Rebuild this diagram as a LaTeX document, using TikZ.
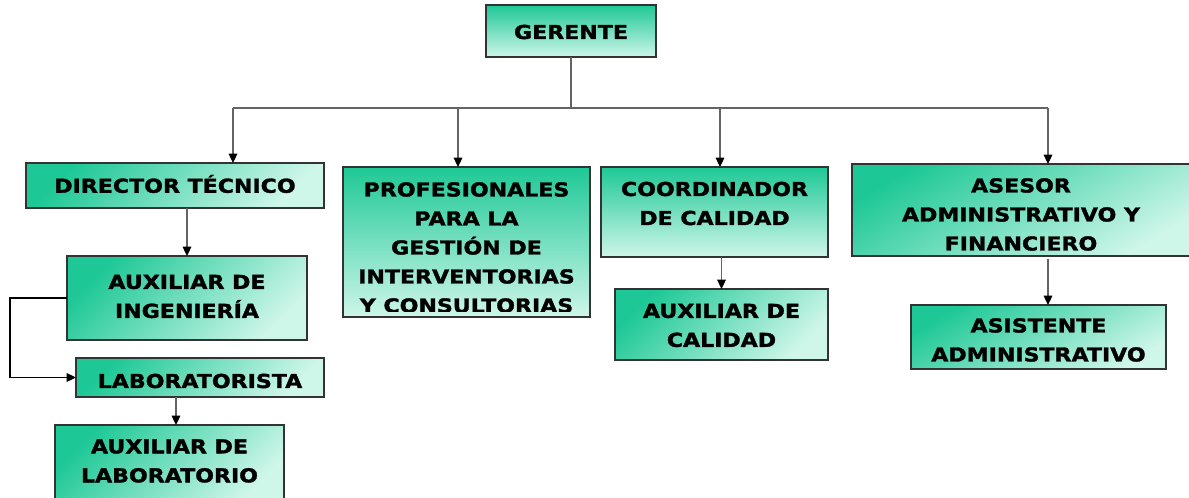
\documentclass[tikz,border=0pt]{standalone}
\usepackage{fontspec}
\newfontfamily\boxfont[FakeStretch=1.15,BoldFeatures={FakeBold=1.6}]{DejaVu Sans}
\usetikzlibrary{arrows.meta}
\definecolor{boxdark}{RGB}{30,200,150}
\definecolor{boxlight}{RGB}{206,246,233}
\definecolor{linegray}{RGB}{100,100,100}

\begin{document}
\begin{tikzpicture}[x=0.75pt,y=-0.75pt,
          box/.style={draw=black!80,line width=0.9pt,rectangle,inner sep=0pt,outer sep=0pt,anchor=north west,
                      top color=boxdark,bottom color=boxlight,shading angle=#1},
          box/.default=45,
          txt/.style={font=\boxfont\bfseries\fontsize{14.4pt}{21.75pt}\selectfont,align=center,inner sep=0pt},
          bus/.style={draw=linegray,line width=0.8pt},
          arrow/.style={bus,-{Triangle[length=7pt,width=6.5pt,color=black,fill=black]}}]

                \useasboundingbox (0,0) rectangle (1189,497);
                \clip (0,0) rectangle (1189,497);

                % boxes
                \node (ger)   [box=0,  minimum width=127.5pt,  minimum height=39pt]    at (486,5)   {};
                \node (dir)   [box,    minimum width=223.5pt,  minimum height=33.75pt] at (26,163)  {};
                \node (prof)  [box=0,  minimum width=185.25pt, minimum height=112.5pt] at (343,167) {};
                \node (coord) [box=0,  minimum width=170.25pt, minimum height=67.5pt]  at (601,167) {};
                \node (auxc)  [box,    minimum width=159.75pt, minimum height=53.25pt] at (615,289) {};
                \node (ases)  [box=30, minimum width=253.5pt,  minimum height=69pt]    at (852,164) {};
                \node (asis)  [box=30, minimum width=191.25pt, minimum height=48pt]    at (911,305) {};
                \node (auxi)  [box,    minimum width=180pt,    minimum height=63pt]    at (67,256)  {};
                \node (lab)   [box,    minimum width=186pt,    minimum height=29.25pt] at (76,358)  {};
                \node (auxl)  [box,    minimum width=171.75pt, minimum height=57pt]    at (55,425)  {};

                % texts
                \node (ger-t)   [txt] at (571,32)     {GERENTE};
                \node (dir-t)   [txt] at (175,184)    {DIRECTOR TÉCNICO};
                \begin{scope}
                  \clip (prof.north west) rectangle ([yshift=4.5pt]prof.south east);
                  \node (prof-t) [txt] at (466.5,247.5) {PROFESIONALES\\PARA LA\\GESTIÓN DE\\INTERVENTORIAS\\Y CONSULTORIAS};
                \end{scope}
                \node (coord-t) [txt] at (714.5,203.5) {COORDINADOR\\DE CALIDAD};
                \node (auxc-t)  [txt] at (721.5,325.5) {AUXILIAR DE\\CALIDAD};
                \node (ases-t)  [txt] at (1021,214.5)  {ASESOR\\ADMINISTRATIVO Y\\FINANCIERO};
                \node (asis-t)  [txt] at (1038.5,340)  {ASISTENTE\\ADMINISTRATIVO};
                \node (auxi-t)  [txt] at (187,296.5)   {AUXILIAR DE\\INGENIERÍA};
                \node (lab-t)   [txt] at (200,381)     {LABORATORISTA};
                \node (auxl-t)  [txt] at (169.5,461)   {AUXILIAR DE\\LABORATORIO};

                % connectors
                \coordinate (b1) at (233,108);
                \coordinate (b2) at (458,108);
                \coordinate (b3) at (720,108);
                \coordinate (b4) at (1048,108);

                \draw[bus] (ger.south) -- (ger.south |- b1);
                \draw[bus] (b1) -- (b4);
                \draw[arrow] (b1) -- (b1 |- dir.north);
                \draw[arrow] (b2) -- (b2 |- prof.north);
                \draw[arrow] (b3) -- (b3 |- coord.north);
                \draw[arrow] (b4) -- (b4 |- ases.north);

                \draw[arrow] (dir.south -| auxi.north) -- (auxi.north);
                \draw[arrow] (coord.south -| auxc.north) -- (auxc.north);
                \draw[arrow,shorten <=2pt] (b4 |- ases.south) -- (b4 |- asis.north);
                \draw[arrow,draw=black] (auxi.west) -- ++(-57,0) |- (lab.west);
                \draw[arrow] ([xshift=-18pt]lab.south) -- ([xshift=-18pt]lab.south |- auxl.north);
              \end{tikzpicture}
\end{document}
